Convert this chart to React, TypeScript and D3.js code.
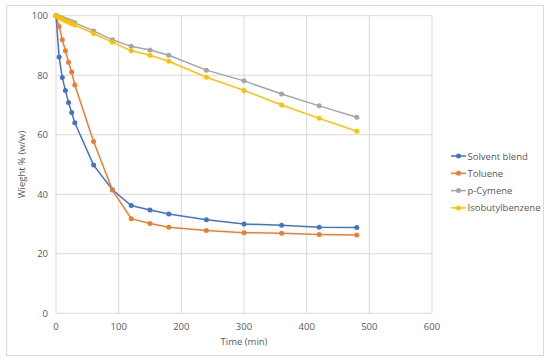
import { useEffect, useRef } from 'react';
import * as d3 from 'd3';

const times = [0, 5, 10, 15, 20, 25, 30, 60, 90, 120, 150, 180, 240, 300, 360, 420, 480];

const solventBlend = [100, 86.1, 79.2, 74.9, 70.8, 67.5, 64.0, 49.8, 41.5, 36.2, 34.7, 33.4, 31.4, 30.0, 29.6, 28.9, 28.8];
const toluene = [100, 96.4, 91.9, 88.2, 84.4, 81.1, 76.7, 57.7, 41.4, 31.8, 30.2, 28.9, 27.8, 27.1, 26.9, 26.5, 26.3];
const pCymene = [100, 99.6, 99.2, 98.8, 98.4, 98.0, 97.6, 94.9, 91.9, 89.7, 88.5, 86.7, 81.7, 78.1, 73.7, 69.7, 65.9];
const isobutylbenzene = [100, 99.3, 98.8, 98.3, 97.8, 97.3, 96.9, 94.0, 91.1, 88.2, 86.7, 84.7, 79.3, 74.9, 70.0, 65.5, 61.2];

const seriesNames = ['Solvent blend', 'Toluene', 'p-Cymene', 'Isobutylbenzene'];
const seriesValues = [solventBlend, toluene, pCymene, isobutylbenzene];
const seriesColors = ['#4472C4', '#ED7D31', '#A5A5A5', '#FFC000'];

const xTicks = [0, 100, 200, 300, 400, 500, 600];
const yTicks = [0, 20, 40, 60, 80, 100];

const App = () => {
  const svgRef = useRef<SVGSVGElement>(null);

  useEffect(() => {
    if (!svgRef.current) return;
    document.body.style.margin = '0';

    const svg = d3.select(svgRef.current);
    svg.selectAll('*').remove();

    const font = '"Open Sans", sans-serif';
    const textColor = '#595959';
    const gridColor = '#d9d9d9';

    // chart frame
    svg.append('rect')
      .attr('x', 6.5)
      .attr('y', 5.5)
      .attr('width', 537)
      .attr('height', 350)
      .attr('fill', '#fff')
      .attr('stroke', gridColor);

    const x = d3.scaleLinear().domain([0, 600]).range([56, 432]);
    const y = d3.scaleLinear().domain([0, 100]).range([313.3, 15.7]);

    const g = svg.append('g');

    // gridlines
    g.selectAll('.vgrid')
      .data(xTicks)
      .enter()
      .append('line')
      .attr('x1', d => x(d))
      .attr('x2', d => x(d))
      .attr('y1', y(0))
      .attr('y2', y(100))
      .attr('stroke', gridColor)
      .attr('stroke-width', 1);

    g.selectAll('.hgrid')
      .data(yTicks)
      .enter()
      .append('line')
      .attr('x1', x(0))
      .attr('x2', x(600))
      .attr('y1', d => y(d))
      .attr('y2', d => y(d))
      .attr('stroke', gridColor)
      .attr('stroke-width', 1);

    // tick labels
    g.selectAll('.xlabel')
      .data(xTicks)
      .enter()
      .append('text')
      .attr('x', d => x(d))
      .attr('y', y(0) + 17)
      .attr('text-anchor', 'middle')
      .style('font-family', font)
      .style('font-size', '9.5px')
      .style('fill', textColor)
      .text(d => d);

    g.selectAll('.ylabel')
      .data(yTicks)
      .enter()
      .append('text')
      .attr('x', x(0) - 8)
      .attr('y', d => y(d) + 3.5)
      .attr('text-anchor', 'end')
      .style('font-family', font)
      .style('font-size', '9.5px')
      .style('fill', textColor)
      .text(d => d);

    // axis titles
    g.append('text')
      .attr('x', (x(0) + x(600)) / 2)
      .attr('y', 345)
      .attr('text-anchor', 'middle')
      .style('font-family', font)
      .style('font-size', '9.5px')
      .style('fill', textColor)
      .text('Time (min)');

    g.append('text')
      .attr('transform', `translate(25,${(y(0) + y(100)) / 2}) rotate(-90)`)
      .attr('text-anchor', 'middle')
      .style('font-family', font)
      .style('font-size', '9.5px')
      .style('fill', textColor)
      .text('Wieght % (w/w)');

    const line = d3.line<number>()
      .x((_, i) => x(times[i]))
      .y(d => y(d));

    seriesValues.forEach((vals, si) => {
      g.append('path')
        .datum(vals)
        .attr('fill', 'none')
        .attr('stroke', seriesColors[si])
        .attr('stroke-width', 1.5)
        .attr('d', line);

      g.selectAll(`.pt${si}`)
        .data(vals)
        .enter()
        .append('circle')
        .attr('cx', (_, i) => x(times[i]))
        .attr('cy', d => y(d))
        .attr('r', 2.5)
        .attr('fill', seriesColors[si]);
    });

    // legend
    const legend = g.append('g');
    seriesNames.forEach((name, i) => {
      const ly = 156 + i * 17.3;
      legend.append('line')
        .attr('x1', 451)
        .attr('x2', 466)
        .attr('y1', ly)
        .attr('y2', ly)
        .attr('stroke', seriesColors[i])
        .attr('stroke-width', 1.5);
      legend.append('circle')
        .attr('cx', 458.5)
        .attr('cy', ly)
        .attr('r', 2.5)
        .attr('fill', seriesColors[i]);
      legend.append('text')
        .attr('x', 467.5)
        .attr('y', ly + 3.5)
        .style('font-family', font)
        .style('font-size', '9.5px')
        .style('fill', textColor)
        .text(name);
    });
  }, []);

  return (
    <div style={{ width: 550, height: 364 }}>
      <svg ref={svgRef} width={550} height={364}></svg>
    </div>
  );
};

export default App;
